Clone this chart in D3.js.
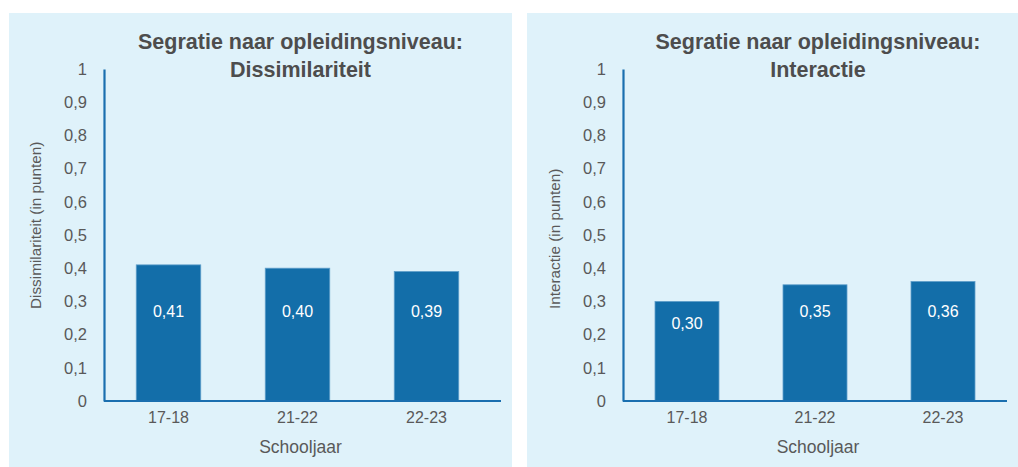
<!DOCTYPE html>
<html>
<head>
<meta charset="utf-8">
<script src="https://cdn.jsdelivr.net/npm/d3@7/dist/d3.min.js"></script>
<style>
  html, body { margin: 0; padding: 0; background: #ffffff; }
  svg { display: block; }
  text { font-family: "Liberation Sans", Arial, sans-serif; }
</style>
</head>
<body>
<svg id="chart" width="1018" height="467"></svg>
<script>
// School years on the x axis
const categories = ["17-18", "21-22", "22-23"];

// Segregation index by education level, per school year
const dissimilarityValues = [0.41, 0.40, 0.39];
const interactionValues = [0.30, 0.35, 0.36];

// Value axis ticks and their Dutch labels
const yTicks = [0, 0.1, 0.2, 0.3, 0.4, 0.5, 0.6, 0.7, 0.8, 0.9, 1];
const yTickLabels = ["0", "0,1", "0,2", "0,3", "0,4", "0,5", "0,6", "0,7", "0,8", "0,9", "1"];

const titleLine1 = "Segratie naar opleidingsniveau:";
const xAxisTitle = "Schooljaar";

const panels = [
  { x0: 9, x1: 512, plotLeft: 104, plotRight: 491, title2: "Dissimilariteit",
    yTitle: "Dissimilariteit (in punten)", values: dissimilarityValues },
  { x0: 527, x1: 1018, plotLeft: 623, plotRight: 1007, title2: "Interactie",
    yTitle: "Interactie (in punten)", values: interactionValues }
];

const bg = "#dff2fa";
const barColor = "#136ea9";
const axisColor = "#1a6faf";
const textColor = "#595959";
const titleColor = "#4d4d4d";

const svg = d3.select("#chart");
const plotTop = 69, plotBottom = 401;

const fmt = v => d3.format(".2f")(v).replace(".", ",");

panels.forEach(p => {
  const g = svg.append("g");

  g.append("rect")
    .attr("x", p.x0).attr("y", 13)
    .attr("width", p.x1 - p.x0).attr("height", 467 - 13)
    .attr("fill", bg);

  const x = d3.scaleBand().domain(categories)
    .range([p.plotLeft, p.plotRight]).paddingInner(0.5).paddingOuter(0.25);
  const y = d3.scaleLinear().domain([0, 1]).range([plotBottom, plotTop]);

  // Title
  const cx = (p.plotLeft + p.plotRight) / 2 + 3;
  const title = g.append("text")
    .attr("text-anchor", "middle")
    .attr("font-size", 21.5).attr("font-weight", "bold")
    .attr("fill", titleColor);
  title.append("tspan").attr("x", cx).attr("y", 48.5).text(titleLine1);
  title.append("tspan").attr("x", cx).attr("y", 77).text(p.title2);

  // Bars
  g.selectAll("rect.bar").data(p.values).join("rect")
    .attr("class", "bar")
    .attr("x", (d, i) => x(categories[i]))
    .attr("y", d => y(d))
    .attr("width", x.bandwidth())
    .attr("height", d => y(0) - y(d))
    .attr("fill", barColor)
    .attr("stroke", "#5f9fca").attr("stroke-width", 0.8);

  // Value labels inside the bars
  g.selectAll("text.val").data(p.values).join("text")
    .attr("class", "val")
    .attr("x", (d, i) => x(categories[i]) + x.bandwidth() / 2)
    .attr("y", d => Math.max(y(d) + 22, y(0.27)))
    .attr("dy", "0.35em")
    .attr("text-anchor", "middle")
    .attr("font-size", 16)
    .attr("fill", "#ffffff")
    .text(d => fmt(d));

  // Y axis
  const yAxis = d3.axisLeft(y).tickValues(yTicks)
    .tickFormat((d, i) => yTickLabels[i]).tickSize(0).tickPadding(17);
  const ya = g.append("g").attr("transform", `translate(${p.plotLeft},0)`).call(yAxis);
  ya.select(".domain").attr("stroke", axisColor).attr("stroke-width", 2.2);
  ya.selectAll("text").attr("font-size", 16.5).attr("fill", textColor)
    .attr("font-family", "Liberation Sans, Arial, sans-serif");

  // X axis
  const xAxis = d3.axisBottom(x).tickSize(0).tickPadding(11);
  const xa = g.append("g").attr("transform", `translate(0,${plotBottom})`).call(xAxis);
  xa.select(".domain").attr("stroke", axisColor).attr("stroke-width", 2.2)
    .attr("d", `M${p.plotLeft},0H${p.x1 - 11}`);
  xa.selectAll("text").attr("font-size", 16).attr("fill", textColor)
    .attr("font-family", "Liberation Sans, Arial, sans-serif");

  // Axis titles
  g.append("text")
    .attr("x", (p.plotLeft + p.plotRight) / 2 + 3).attr("y", 453)
    .attr("text-anchor", "middle")
    .attr("font-size", 17.5).attr("fill", textColor)
    .text(xAxisTitle);

  g.append("text")
    .attr("transform", `translate(${p.plotLeft - 63.5},${309}) rotate(-90)`)
    .attr("text-anchor", "start")
    .attr("font-size", 15.3).attr("fill", textColor)
    .text(p.yTitle);
});
</script>
</body>
</html>
